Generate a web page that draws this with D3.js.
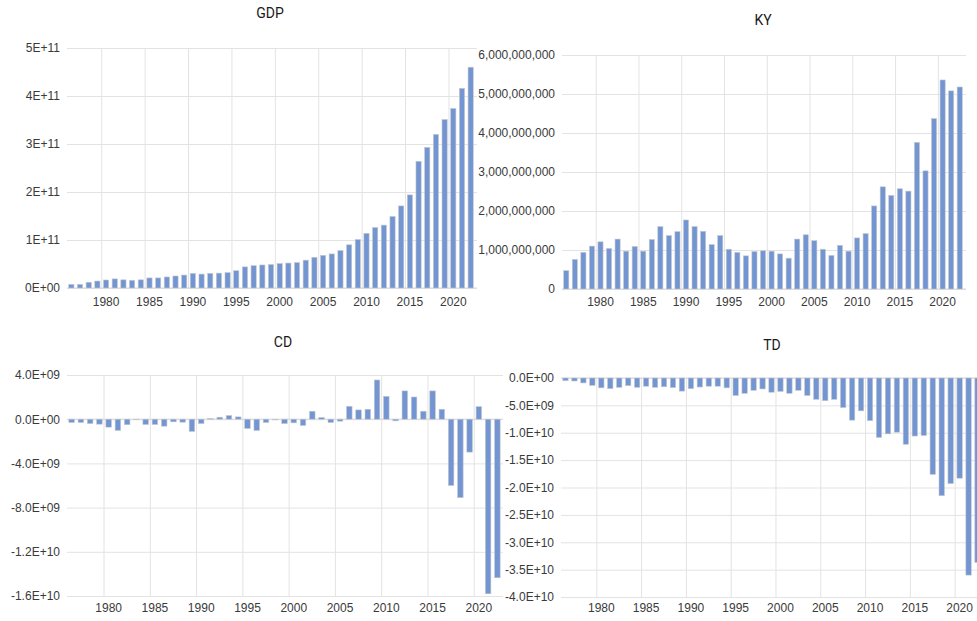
<!DOCTYPE html>
<html>
<head>
<meta charset="utf-8">
<script src="https://cdn.jsdelivr.net/npm/d3@7"></script>
<style>
  body { margin: 0; background: #fff; }
  svg { display: block; font-family: Roboto, "Liberation Sans", sans-serif; }
  .tick text { fill: #3a3a3a; font-size: 12px; }
  .title { fill: #1a1a1a; font-size: 14px; text-anchor: middle; }
</style>
</head>
<body>
<svg width="977" height="621"></svg>
<script>
const years = d3.range(1976, 2023);
const yearLabels = [1980, 1985, 1990, 1995, 2000, 2005, 2010, 2015, 2020];

const gdp = [7.6e9, 7.6e9, 1.2e10, 1.45e10, 1.67e10, 1.9e10, 1.7e10, 1.6e10, 1.7e10, 2.1e10,
  2.1e10, 2.3e10, 2.5e10, 2.7e10, 3.05e10, 2.9e10, 3.05e10, 3.1e10, 3.2e10, 3.6e10,
  4.4e10, 4.65e10, 4.8e10, 4.9e10, 5.1e10, 5.2e10, 5.3e10, 5.8e10, 6.4e10, 6.8e10,
  7.1e10, 7.8e10, 9.0e10, 1.01e11, 1.14e11, 1.26e11, 1.31e11, 1.49e11, 1.71e11, 1.94e11,
  2.64e11, 2.93e11, 3.2e11, 3.51e11, 3.74e11, 4.16e11, 4.6e11];

const ky = [0.47e9, 0.76e9, 0.94e9, 1.10e9, 1.21e9, 1.04e9, 1.28e9, 0.97e9, 1.09e9, 0.97e9,
  1.27e9, 1.60e9, 1.37e9, 1.47e9, 1.77e9, 1.60e9, 1.48e9, 1.14e9, 1.37e9, 1.02e9,
  0.94e9, 0.85e9, 0.96e9, 0.98e9, 0.97e9, 0.90e9, 0.79e9, 1.28e9, 1.39e9, 1.24e9,
  1.02e9, 0.86e9, 1.12e9, 0.97e9, 1.31e9, 1.42e9, 2.13e9, 2.62e9, 2.40e9, 2.57e9,
  2.51e9, 3.76e9, 3.03e9, 4.37e9, 5.36e9, 5.08e9, 5.18e9];

const cd = [-0.3e9, -0.3e9, -0.4e9, -0.45e9, -0.72e9, -1.02e9, -0.5e9, -0.05e9, -0.48e9, -0.48e9,
  -0.63e9, -0.24e9, -0.27e9, -1.11e9, -0.4e9, 0.06e9, 0.18e9, 0.33e9, 0.21e9, -0.84e9,
  -1.02e9, -0.3e9, -0.06e9, -0.4e9, -0.33e9, -0.57e9, 0.72e9, 0.15e9, -0.3e9, -0.18e9,
  1.17e9, 0.84e9, 0.9e9, 3.55e9, 2.07e9, -0.15e9, 2.56e9, 2.01e9, 0.72e9, 2.56e9,
  0.9e9, -6.0e9, -7.1e9, -2.98e9, 1.14e9, -15.8e9, -14.35e9];

const td = [-0.5e9, -0.55e9, -0.9e9, -1.35e9, -1.8e9, -1.95e9, -1.7e9, -1.4e9, -1.7e9, -1.5e9,
  -1.7e9, -1.6e9, -1.75e9, -2.4e9, -1.95e9, -1.65e9, -1.5e9, -1.5e9, -1.8e9, -3.2e9,
  -2.8e9, -2.25e9, -2.0e9, -2.6e9, -2.45e9, -2.8e9, -2.25e9, -3.2e9, -3.9e9, -4.15e9,
  -3.9e9, -5.4e9, -7.7e9, -6.0e9, -7.8e9, -10.85e9, -10.2e9, -9.9e9, -12.1e9, -10.6e9,
  -10.5e9, -17.6e9, -21.5e9, -19.3e9, -18.3e9, -36.0e9, -33.7e9];

const gdpTicks = [0, 1e11, 2e11, 3e11, 4e11, 5e11];
const kyTicks = [0, 1e9, 2e9, 3e9, 4e9, 5e9, 6e9];
const cdTicks = [4e9, 0, -4e9, -8e9, -1.2e10, -1.6e10];
const tdTicks = [0, -5e9, -1e10, -1.5e10, -2e10, -2.5e10, -3e10, -3.5e10, -4e10];

// Excel style scientific labels, e.g. 4.0E+09
function sci(decimals) {
  return function (v) {
    if (v === 0) return (0).toFixed(decimals) + "E+00";
    const e = Math.floor(Math.log10(Math.abs(v)) + 1e-9);
    const m = v / Math.pow(10, e);
    const sign = e < 0 ? "-" : "+";
    return m.toFixed(decimals) + "E" + sign + String(Math.abs(e)).padStart(2, "0");
  };
}

const svg = d3.select("svg");

function drawPanel(p) {
  const g = svg.append("g");
  const x = d3.scaleBand().domain(years).range([p.left, p.right]).padding(0);
  const y = d3.scaleLinear().domain(p.domain).range([p.bottom, p.top]);
  const step = x.bandwidth();
  const barW = step * 0.6;

  // horizontal gridlines
  g.append("g")
    .attr("transform", `translate(${p.left},0)`)
    .call(d3.axisLeft(y).tickValues(p.ticks).tickSize(-(p.gridRight - p.left)).tickFormat(""))
    .call(s => s.select(".domain").remove())
    .call(s => s.selectAll("line").attr("stroke", "#e3e3e3"));

  // vertical gridlines at category boundaries
  g.append("g")
    .selectAll("line")
    .data(yearLabels)
    .join("line")
    .attr("x1", d => x(d)).attr("x2", d => x(d))
    .attr("y1", p.top).attr("y2", p.bottom)
    .attr("stroke", "#e3e3e3");

  g.append("line")
    .attr("x1", p.left).attr("x2", p.gridRight)
    .attr("y1", y(0)).attr("y2", y(0))
    .attr("stroke", "#d9d9d9");

  g.append("g")
    .selectAll("rect")
    .data(p.values)
    .join("rect")
    .attr("x", (d, i) => x(years[i]) + (step - barW) / 2)
    .attr("width", barW)
    .attr("y", d => Math.min(y(d), y(0)))
    .attr("height", d => Math.abs(y(d) - y(0)))
    .attr("fill", "#7395d1")
    .attr("stroke", "#c4c8d0")
    .attr("stroke-width", 0.6);

  // value axis labels
  g.append("g")
    .attr("transform", `translate(${p.labelX},0)`)
    .call(d3.axisLeft(y).tickValues(p.ticks).tickSize(0).tickPadding(0).tickFormat(p.fmt))
    .call(s => s.select(".domain").remove());

  // category labels
  g.append("g")
    .attr("transform", `translate(0,${p.xLabelY})`)
    .call(d3.axisBottom(x).tickValues(yearLabels).tickSize(0).tickPadding(0))
    .call(s => s.select(".domain").remove())
    .call(s => s.selectAll("text").attr("dy", "0.32em"));

  g.append("text")
    .attr("class", "title")
    .attr("x", p.titleX)
    .attr("y", p.titleY)
    .text(p.title);
}

const panels = [
  { title: "GDP", values: gdp, ticks: gdpTicks, fmt: sci(0), domain: [0, 5e11],
    left: 67, right: 475, gridRight: 477, top: 48, bottom: 288,
    labelX: 60, xLabelY: 302, titleX: 270, titleY: 18 },
  { title: "CD", values: cd, ticks: cdTicks, fmt: sci(1), domain: [-1.6e10, 4e9],
    left: 67, right: 502, gridRight: 503, top: 375, bottom: 596,
    labelX: 60, xLabelY: 608, titleX: 283, titleY: 347 },
  { title: "KY", values: ky, ticks: kyTicks, fmt: d3.format(","), domain: [0, 6e9],
    left: 562, right: 964, gridRight: 966, top: 55, bottom: 289,
    labelX: 555, xLabelY: 302, titleX: 763, titleY: 25 },
  { title: "TD", values: td, ticks: tdTicks, fmt: sci(1), domain: [-4e10, 0],
    left: 561, right: 982, gridRight: 982, top: 378, bottom: 597,
    labelX: 554, xLabelY: 608, titleX: 772, titleY: 350 }
];

panels.forEach(drawPanel);
</script>
</body>
</html>
